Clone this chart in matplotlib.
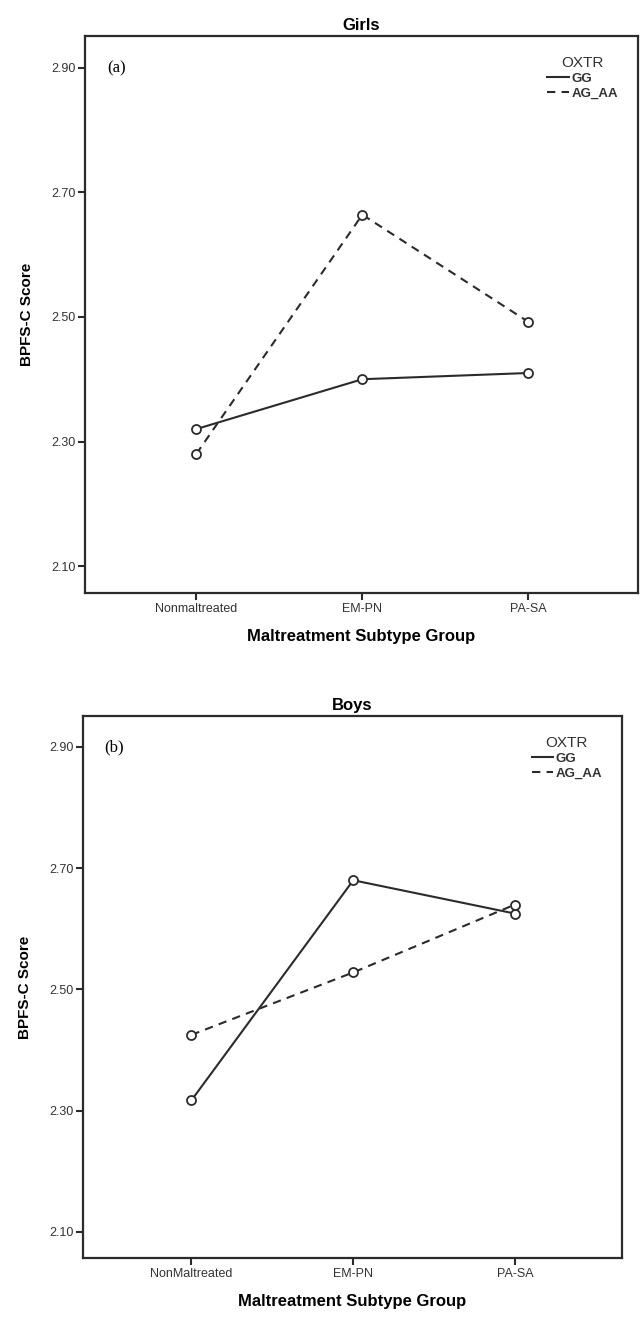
import matplotlib
matplotlib.use("Agg")
import matplotlib.pyplot as plt

categories_girls = ["Nonmaltreated", "EM-PN", "PA-SA"]
categories_boys = ["NonMaltreated", "EM-PN", "PA-SA"]
girls_gg = [2.32, 2.40, 2.41]
girls_ag_aa = [2.28, 2.664, 2.492]
boys_gg = [2.317, 2.68, 2.625]
boys_ag_aa = [2.425, 2.528, 2.64]
yticks = [2.10, 2.30, 2.50, 2.70, 2.90]
series_labels = ["GG", "AG_AA"]

plt.rcParams['font.family'] = ['Liberation Sans', 'DejaVu Sans']
col = "#2b2b2b"

fig = plt.figure(figsize=(6.4, 13.2), dpi=100)

panels = [
    dict(rect=[0.1328, 0.5508, 0.8641, 0.4220], cats=categories_girls, gg=girls_gg,
         ag=girls_ag_aa, title="Girls", tag="(a)"),
    dict(rect=[0.1297, 0.0470, 0.8420, 0.4106], cats=categories_boys, gg=boys_gg,
         ag=boys_ag_aa, title="Boys", tag="(b)"),
]

for p in panels:
    ax = fig.add_axes(p["rect"])
    x = list(range(len(p["cats"])))
    ax.plot(x, p["gg"], color=col, lw=1.5, ls="-", marker="o", ms=6.5,
            mfc="white", mec=col, mew=1.3, label=series_labels[0])
    ax.plot(x, p["ag"], color=col, lw=1.5, ls=(0, (4, 3)), marker="o", ms=6.5,
            mfc="white", mec=col, mew=1.3, label=series_labels[1])
    ax.set_xlim(-0.67, 2.66)
    ax.set_ylim(2.057, 2.951)
    ax.set_xticks(x)
    ax.set_xticklabels(p["cats"], fontsize=9, color="#333333")
    ax.set_yticks(yticks)
    ax.set_yticklabels([f"{v:.2f}" for v in yticks], fontsize=9, color="#333333")
    ax.tick_params(axis="both", length=5, width=1.5, color=col, pad=2)
    for s in ax.spines.values():
        s.set_linewidth(1.6)
        s.set_color(col)
    ax.set_title(p["title"], fontsize=12, fontweight="bold", pad=4)
    ax.set_xlabel("Maltreatment Subtype Group", fontsize=12, fontweight="bold", labelpad=10)
    ax.set_ylabel("BPFS-C Score", fontsize=11, fontweight="bold", labelpad=12)
    ax.text(0.04, 0.942, p["tag"], transform=ax.transAxes, fontsize=12,
            family="Liberation Serif", va="center", ha="left")
    leg = ax.legend(title="OXTR", loc="upper right", bbox_to_anchor=(0.985, 0.985),
                    frameon=False, fontsize=9.5, title_fontsize=11, handlelength=1.6,
                    handletextpad=0.2, labelspacing=0.2)
    for h in leg.legend_handles:
        h.set_marker("")
    for t in leg.get_texts():
        t.set_fontweight("bold")
        t.set_color("#333333")
    leg.get_title().set_color("#333333")

fig.savefig("out.png", dpi=100)
